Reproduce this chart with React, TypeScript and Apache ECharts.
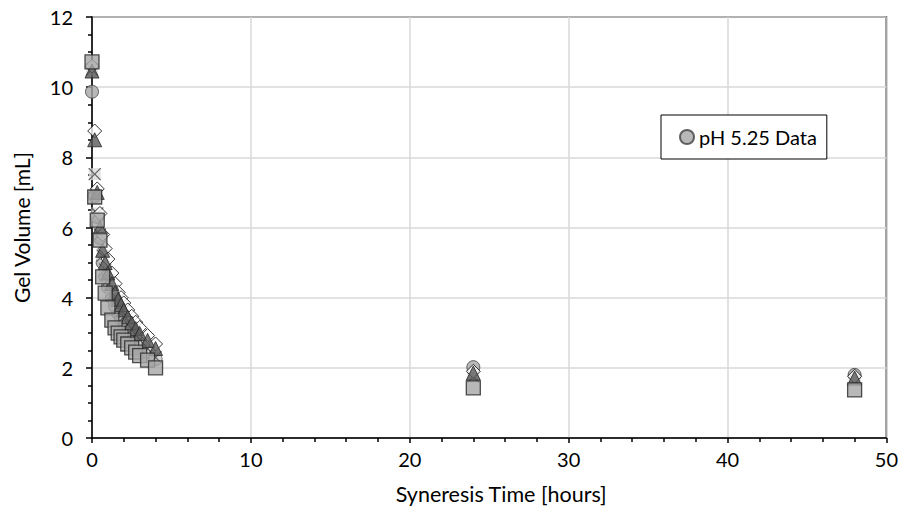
import React, { useEffect, useRef } from "react";
import * as echarts from "echarts";

const times = [0, 0.17, 0.33, 0.5, 0.67, 0.83, 1, 1.25, 1.45, 1.65, 1.83, 2, 2.25, 2.5, 2.75, 3, 3.5, 4, 24, 48];
const circleV = [9.87, 6.9, 6.3, 5.7, 5.0, 4.6, 4.3, 4.0, 3.75, 3.55, 3.4, 3.25, 3.1, 2.95, 2.8, 2.65, 2.45, 2.25, 2.02, 1.8];
const crossV = [10.5, 7.52, 6.4, 5.8, 5.2, 4.8, 4.5, 4.2, 3.95, 3.75, 3.6, 3.45, 3.25, 3.1, 2.95, 2.8, 2.55, 2.3, 1.75, 1.65];
const diamondV = [10.6, 8.75, 7.1, 6.4, 5.8, 5.4, 5.1, 4.7, 4.4, 4.15, 4.0, 3.85, 3.65, 3.47, 3.3, 3.15, 2.92, 2.68, 1.9, 1.76];
const triangleV = [10.46, 8.5, 7.0, 6.0, 5.35, 5.0, 4.7, 4.4, 4.15, 3.95, 3.8, 3.65, 3.45, 3.28, 3.12, 2.98, 2.78, 2.55, 1.85, 1.71];
const squareV = [10.72, 6.87, 6.21, 5.64, 4.59, 4.13, 3.71, 3.36, 3.14, 2.99, 2.88, 2.79, 2.68, 2.57, 2.45, 2.35, 2.22, 2.0, 1.43, 1.37];

const xTicks = [0, 10, 20, 30, 40, 50];
const yTicks = [0, 2, 4, 6, 8, 10, 12];

const legendName = "pH 5.25 Data";
const xTitle = "Syneresis Time [hours]";
const yTitle = "Gel Volume [mL]";

const FONT = "Lato, 'Liberation Sans', sans-serif";

function pairs(vals: number[]) {
  return times.map((t, i) => [t, vals[i]]);
}

export default function App() {
  const ref = useRef<HTMLDivElement>(null);
  useEffect(() => {
    if (!ref.current) return;
    const chart = echarts.init(ref.current, undefined, { renderer: "svg" });
    chart.setOption({
      animation: false,
      backgroundColor: "#ffffff",
      textStyle: { fontFamily: FONT },
      grid: {
        left: 92,
        right: 14,
        top: 17,
        bottom: 86,
        show: true,
        borderColor: "#000",
        borderWidth: 1.5,
        backgroundColor: "transparent",
      },
      legend: {
        data: [legendName],
        left: 661,
        top: 115,
        orient: "vertical",
        icon: "circle",
        itemWidth: 14,
        itemHeight: 14,
        itemGap: 5,
        padding: [12, 10, 12, 18],
        borderColor: "#000",
        borderWidth: 1,
        backgroundColor: "#fff",
        textStyle: { fontFamily: FONT, fontSize: 20, color: "#000" },
      },
      xAxis: {
        type: "value",
        min: xTicks[0],
        max: xTicks[xTicks.length - 1],
        interval: 10,
        name: xTitle,
        nameLocation: "middle",
        nameGap: 45,
        nameTextStyle: { fontFamily: FONT, fontSize: 21.5, color: "#000", padding: [0, 0, 0, 24] },
        axisLine: { show: true, lineStyle: { color: "#000", width: 1.5 } },
        axisTick: { show: true, inside: false, length: 5, lineStyle: { color: "#000", width: 1.5 } },
        minorTick: { show: true, splitNumber: 5, length: 4, lineStyle: { color: "#000", width: 1.5 } },
        axisLabel: { fontFamily: FONT, fontSize: 20, color: "#000", margin: 11 },
        splitLine: { show: true, lineStyle: { color: "#d9d9d9", width: 1.5 } },
      },
      yAxis: {
        type: "value",
        min: yTicks[0],
        max: yTicks[yTicks.length - 1],
        interval: 2,
        name: yTitle,
        nameLocation: "middle",
        nameGap: 60,
        nameRotate: 90,
        nameTextStyle: { fontFamily: FONT, fontSize: 21, color: "#000" },
        axisLine: { show: true, lineStyle: { color: "#000", width: 1.5 } },
        axisTick: { show: true, inside: false, length: 6, lineStyle: { color: "#000", width: 1.5 } },
        minorTick: { show: true, splitNumber: 4, length: 4, lineStyle: { color: "#000", width: 1.5 } },
        axisLabel: { fontFamily: FONT, fontSize: 20, color: "#000", margin: 19 },
        splitLine: { show: true, lineStyle: { color: "#d9d9d9", width: 1.5 } },
      },
      series: [
        {
          name: legendName,
          type: "scatter",
          symbol: "circle",
          symbolSize: 13,
          data: pairs(circleV),
          itemStyle: { color: "#a6a6a6", borderColor: "#404040", borderWidth: 1 },
        },
        {
          name: "crossBg",
          type: "scatter",
          symbol: "rect",
          symbolSize: 12,
          data: pairs(crossV),
          itemStyle: { color: "#d9d9d9", borderWidth: 0 },
        },
        {
          name: "cross",
          type: "scatter",
          symbol: "path://M0 0L10 10M10 0L0 10",
          symbolSize: 12,
          data: pairs(crossV),
          itemStyle: { color: "rgba(0,0,0,0)", borderColor: "#404040", borderWidth: 1.2 },
        },
        {
          name: "diamond",
          type: "scatter",
          symbol: "diamond",
          symbolSize: 14,
          data: pairs(diamondV),
          itemStyle: { color: "#ffffff", borderColor: "#000", borderWidth: 1 },
        },
        {
          name: "triangle",
          type: "scatter",
          symbol: "triangle",
          symbolSize: 14,
          data: pairs(triangleV),
          itemStyle: { color: "#595959", borderColor: "#262626", borderWidth: 1 },
        },
        {
          name: "square",
          type: "scatter",
          symbol: "rect",
          symbolSize: 14,
          data: pairs(squareV),
          itemStyle: { color: "#a6a6a6", borderColor: "#262626", borderWidth: 1.3 },
        },
      ],
    });
    return () => chart.dispose();
  }, []);
  return (
    <div
      ref={ref}
      style={{ position: "absolute", left: 0, top: 0, width: 901, height: 524 }}
    />
  );
}
